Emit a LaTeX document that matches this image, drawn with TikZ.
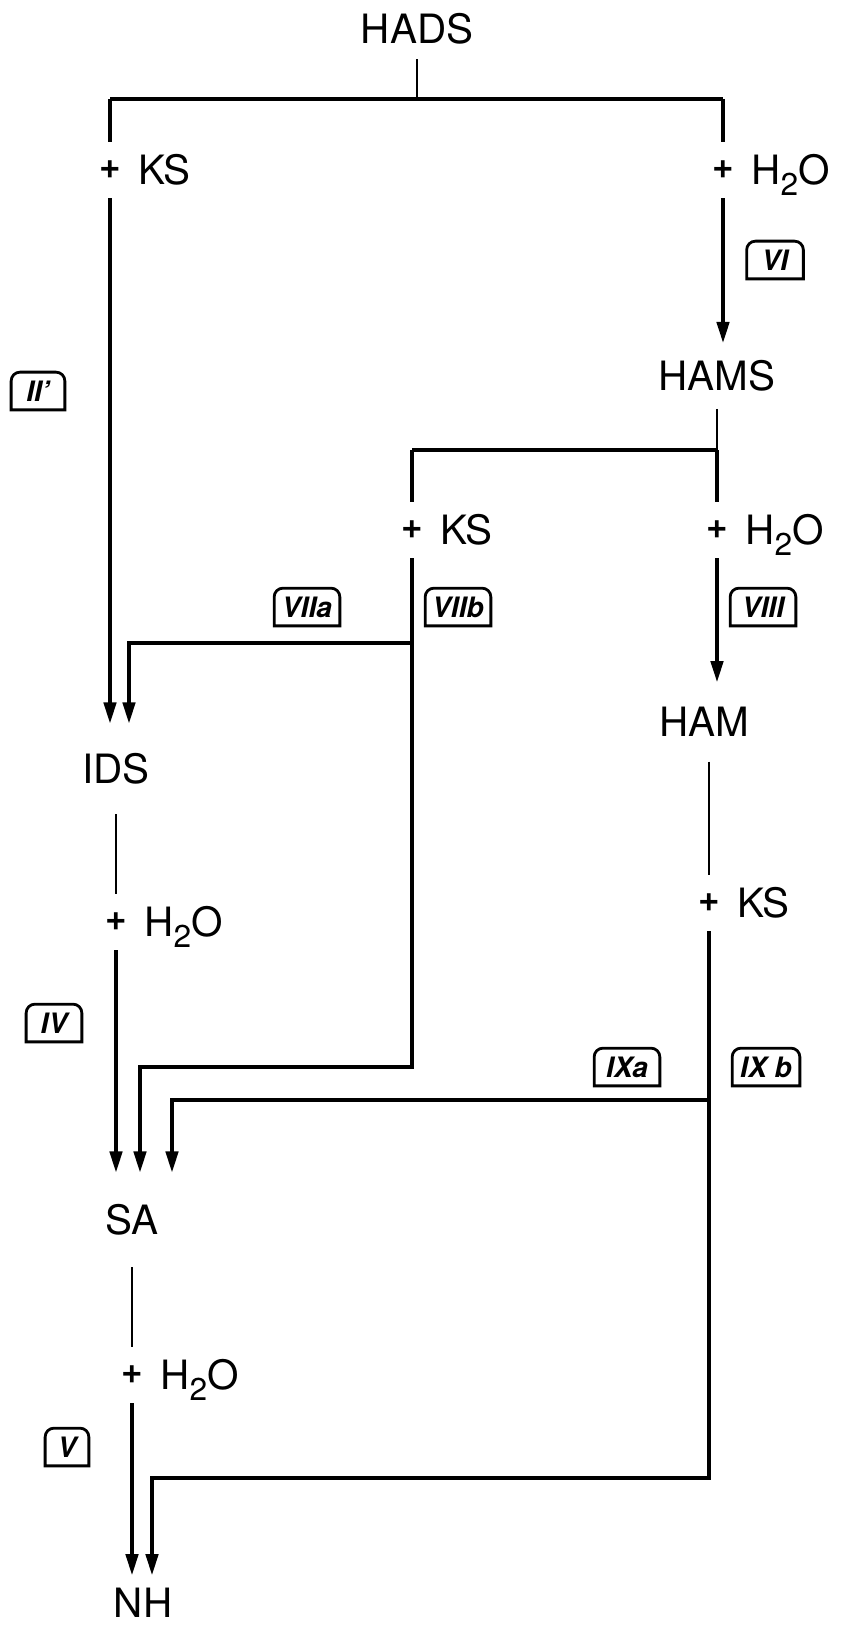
\documentclass[tikz,border=0pt]{standalone}
\usepackage{fontspec}
\setmainfont{TeX Gyre Heros}
\usetikzlibrary{arrows.meta}

\newcommand{\chemfont}{\fontsize{23pt}{28pt}\selectfont}
\newcommand{\plusfont}{\fontsize{21pt}{22pt}\selectfont\bfseries}
\newcommand{\rxnfont}{\fontsize{16pt}{18pt}\selectfont\bfseries\itshape}
\newcommand{\water}{H\raisebox{-6pt}[0pt][0pt]{\fontsize{18pt}{18pt}\selectfont 2}O}

\begin{document}
\begin{tikzpicture}[x=0.02cm, y=-0.02cm,
    chem/.style={font=\chemfont, inner sep=0pt, outer sep=0.3cm},
    plus/.style={font=\plusfont, inner sep=0pt, minimum size=1.12cm, label distance=0.1cm},
    addend/.style={font=\chemfont, inner sep=0pt, outer sep=0pt},
    rxn/.style={font=\rxnfont, inner sep=0pt, minimum height=0.74cm, minimum width=1.3cm},
    rxnline/.style={line width=1.6pt},
    line/.style={line width=1.9pt},
    stem/.style={line width=1.3pt},
    arr/.style={line width=2.1pt, -{Triangle[length=12pt, width=7pt]}}]
    \useasboundingbox (0,0) rectangle (845,1625);

    % compounds
    \node[chem] (hads) at (417,29) {HADS};
    \node[chem, outer sep=0.35cm] (hams) at (717,376) {HAMS};
    \node[chem, outer sep=0.5cm] (ham) at (704,722) {HAM};
    \node[chem, outer sep=0.6cm] (ids) at (116,769) {IDS};
    \node[chem, outer sep=0.64cm] (sa) at (132,1220) {SA};
    \node[chem, outer sep=0.26cm] (nh) at (143,1603) {NH};

    % reactants
    \node[plus, label distance=0.26cm, label={[addend]right:KS}] (ks1) at (110,170) {+};
    \node[plus, label={[addend]right:\water}] (w1) at (723,170) {+};
    \node[plus, label={[addend]right:KS}] (ks2) at (412,530) {+};
    \node[plus, label={[addend]right:\water}] (w2) at (717,530) {+};
    \node[plus, label={[addend]right:\water}] (w3) at (116,922) {+};
    \node[plus, label distance=0.26cm, label={[addend]right:KS}] (ks3) at (709,903) {+};
    \node[plus, label={[addend]right:\water}] (w4) at (132,1375) {+};

    % reaction numbers
    \node[rxn, minimum width=1.06cm] (r2) at (38,391) {II'};
    \node[rxn, minimum width=1.12cm] (r6) at (775,260) {VI};
    \node[rxn] (r7a) at (307,607) {VIIa};
    \node[rxn] (r7b) at (458,607) {VIIb};
    \node[rxn] (r8) at (763,607) {VIII};
    \node[rxn, minimum width=1.1cm] (r4) at (54,1023) {IV};
    \node[rxn] (r9a) at (627,1067) {IXa};
    \node[rxn, minimum width=1.34cm] (r9b) at (766,1067) {IX b};
    \node[rxn, minimum width=0.86cm] (r5) at (67,1447) {V};
    \foreach \b in {r2,r4,r5,r6,r7a,r7b,r8,r9a,r9b}
        \draw[rxnline] (\b.south west) [rounded corners=5pt] -- (\b.north west) -- (\b.north east) [sharp corners] -- (\b.south east) -- cycle;

    % branch points
    \coordinate (tl) at (110,99);
    \coordinate (tm) at (417,99);
    \coordinate (tr) at (723,99);
    \coordinate (ml) at (412,450);
    \coordinate (mr) at (717,450);
    \coordinate (b1) at (412,643);
    \coordinate (e1) at (129,643);
    \coordinate (b2) at (412,1067);
    \coordinate (e2) at (140,1067);
    \coordinate (b3) at (709,1100);
    \coordinate (e3) at (172,1100);
    \coordinate (b4) at (709,1478);
    \coordinate (e4) at (152,1478);

    \draw[stem] (hads) -- (tm);
    \draw[line] (tl) -- (tr);
    \draw[line] (tl) -- (ks1);
    \draw[line] (tr) -- (w1);
    \draw[arr] (ks1) -- (ks1 |- ids.north);
    \draw[arr] (w1) -- (w1 |- hams.north);
    \draw[stem] (hams) -- (mr);
    \draw[line] (ml) -- (mr);
    \draw[line] (ml) -- (ks2);
    \draw[line] (mr) -- (w2);
    \draw[arr] (w2) -- (w2 |- ham.north);
    \draw[arr] (ks2) -- (b2) -- (e2) -- (e2 |- sa.north);
    \draw[arr] (b1) -- (e1) -- (e1 |- ids.north);
    \draw[stem] (ids) -- (w3);
    \draw[arr] (w3) -- (w3 |- sa.north);
    \draw[stem] (ham.south -| ks3) -- (ks3);
    \draw[arr] (ks3) -- (b4) -- (e4) -- (e4 |- nh.north);
    \draw[arr] (b3) -- (e3) -- (e3 |- sa.north);
    \draw[stem] (sa) -- (w4);
    \draw[arr] (w4) -- (w4 |- nh.north);
\end{tikzpicture}
\end{document}
